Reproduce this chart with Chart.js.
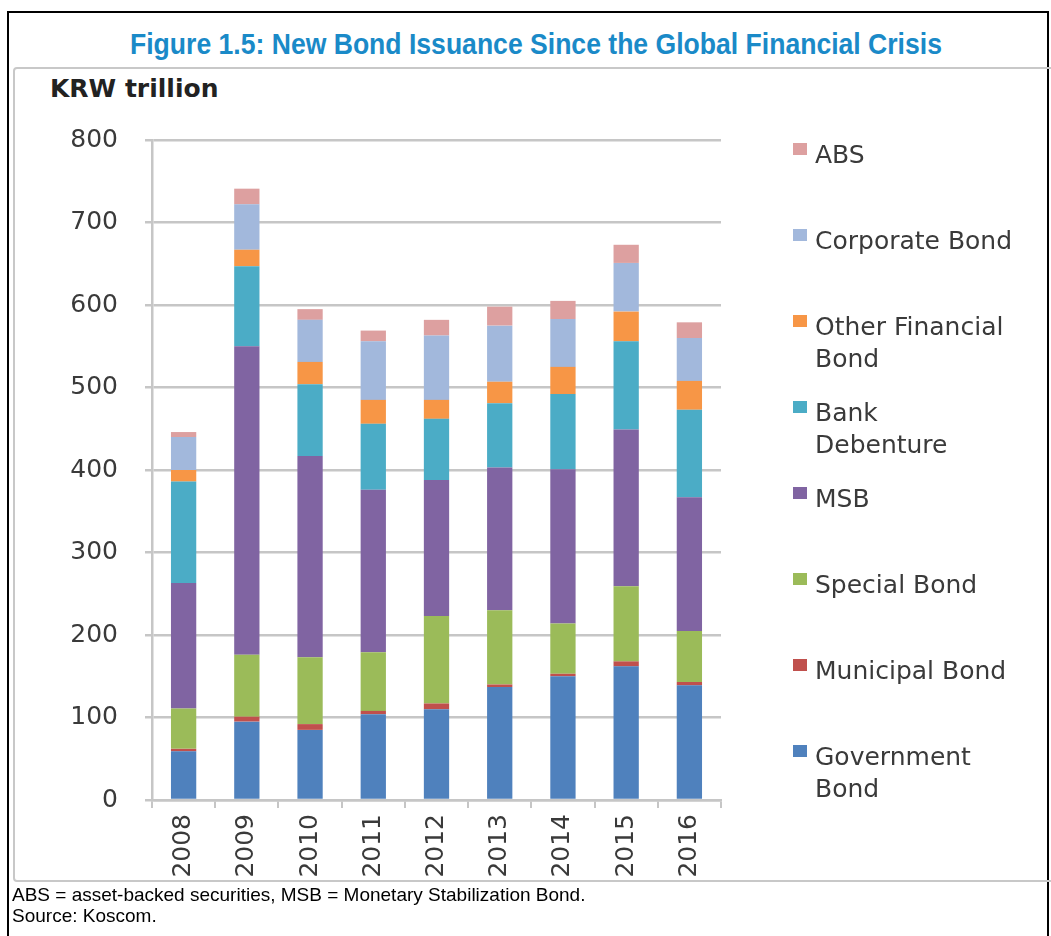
<!DOCTYPE html>
<html>
<head>
<meta charset="utf-8">
<script src="https://cdn.jsdelivr.net/npm/chart.js@4.4.1/dist/chart.umd.min.js"></script>
<style>
  html, body { margin: 0; padding: 0; background: #fff; }
  #page { position: relative; width: 1051px; height: 936px; overflow: hidden; }
  #frame { position: absolute; left: 7px; top: 11px; width: 1038px; height: 940px; border: 2px solid #000; border-bottom: none; }
  #box { position: absolute; left: 13px; top: 67px; width: 1040px; height: 811px; border: 2px solid #c8c8c8; border-radius: 4px; }
  #title { position: absolute; left: 130px; top: 27px; white-space: nowrap; transform-origin: 0 0; font: bold 30px "Liberation Sans", Arial, sans-serif; color: #1a8ac8; }
  #unit { position: absolute; left: 50px; top: 74px; font: bold 25px "DejaVu Sans", sans-serif; color: #222; }
  .note { position: absolute; left: 12px; white-space: nowrap; font: 19px "Liberation Sans", Arial, sans-serif; color: #000; }
  canvas { position: absolute; left: 0; top: 0; }
</style>
</head>
<body>
<div id="page">
  <div id="frame"></div>
  <div id="box"></div>
  <div id="title">Figure 1.5: New Bond Issuance Since the Global Financial Crisis</div>
  <div id="unit">KRW trillion</div>
  <canvas id="chart" width="1051" height="936"></canvas>
  <div class="note" style="top:884px">ABS = asset-backed securities, MSB = Monetary Stabilization Bond.</div>
  <div class="note" style="top:905px">Source: Koscom.</div>
</div>
<script>
// KRW trillion
const years = ["2008", "2009", "2010", "2011", "2012", "2013", "2014", "2015", "2016"]
const government = [59, 95, 85, 104, 110, 137, 150, 162, 139]
const municipal = [3, 6, 7, 4, 7, 3, 3, 6, 4]
const special = [49, 75, 81, 71, 106, 90, 61, 91, 62]
const msb = [152, 374, 244, 197, 165, 173, 187, 190, 162]
const bankDebenture = [123, 97, 87, 80, 74, 78, 91, 107, 106]
const otherFinancial = [14, 20, 27, 29, 23, 26, 33, 36, 35]
const corporate = [40, 55, 51, 71, 78, 68, 58, 59, 52]
const abs = [6, 19, 13, 13, 19, 23, 22, 22, 19]
const yTicks = [0, 100, 200, 300, 400, 500, 600, 700, 800]

const series = [
  { label: "Government Bond", lines: ["Government", "Bond"], data: government, color: "#4f81bd" },
  { label: "Municipal Bond", lines: ["Municipal Bond"], data: municipal, color: "#c0504d" },
  { label: "Special Bond", lines: ["Special Bond"], data: special, color: "#9bbb59" },
  { label: "MSB", lines: ["MSB"], data: msb, color: "#8064a2" },
  { label: "Bank Debenture", lines: ["Bank", "Debenture"], data: bankDebenture, color: "#4bacc6" },
  { label: "Other Financial Bond", lines: ["Other Financial", "Bond"], data: otherFinancial, color: "#f79646" },
  { label: "Corporate Bond", lines: ["Corporate Bond"], data: corporate, color: "#a2b8dc" },
  { label: "ABS", lines: ["ABS"], data: abs, color: "#dda0a0" }
]

// squeeze the title into the narrow width it has in the figure
const title = document.getElementById("title")
title.style.transform = "scaleX(" + (812 / title.offsetWidth) + ")"

const tickFont = { family: "DejaVu Sans", size: 25 }
const textColor = "#3a3a3a"
const gridColor = "#c6c6c6"

// excel style legend on the right, top item = last series
const sideLegend = {
  id: "sideLegend",
  afterDraw(chart) {
    const ctx = chart.ctx
    const sets = chart.data.datasets
    ctx.save()
    ctx.font = "25px 'DejaVu Sans'"
    ctx.textBaseline = "alphabetic"
    ctx.textAlign = "left"
    for (let k = 0; k < sets.length; k++) {
      const ds = sets[sets.length - 1 - k]
      const base = 163 + k * 86
      ctx.fillStyle = ds.backgroundColor
      ctx.fillRect(793, base - 20, 14, 12)
      ctx.fillStyle = textColor
      ds.lines.forEach((t, j) => ctx.fillText(t, 815, base + j * 32))
    }
    ctx.restore()
  }
}

new Chart(document.getElementById("chart"), {
  type: "bar",
  data: {
    labels: years,
    datasets: series.map(s => ({
      label: s.label,
      lines: s.lines,
      data: s.data,
      backgroundColor: s.color,
      borderWidth: 0,
      barPercentage: 0.4,
      categoryPercentage: 1
    }))
  },
  options: {
    responsive: false,
    animation: false,
    devicePixelRatio: 1,
    layout: { padding: { top: 140, right: 330, left: 0, bottom: 0 } },
    plugins: { legend: { display: false }, tooltip: { enabled: false } },
    scales: {
      x: {
        stacked: true,
        afterFit: s => { s.height = 136 },
        grid: { display: true, drawOnChartArea: false, offset: true, tickLength: 8, color: gridColor, lineWidth: 2 },
        border: { color: gridColor, width: 2.5 },
        ticks: { maxRotation: 90, minRotation: 90, padding: 6, font: tickFont, color: textColor }
      },
      y: {
        stacked: true,
        min: 0,
        max: 800,
        afterFit: s => { s.width = 152 },
        afterBuildTicks: s => { s.ticks = yTicks.map(v => ({ value: v })) },
        grid: { color: gridColor, lineWidth: 2.5, tickLength: 7 },
        border: { color: gridColor, width: 2.5 },
        ticks: { padding: 27, font: tickFont, color: textColor }
      }
    }
  },
  plugins: [sideLegend]
})
</script>
</body>
</html>
